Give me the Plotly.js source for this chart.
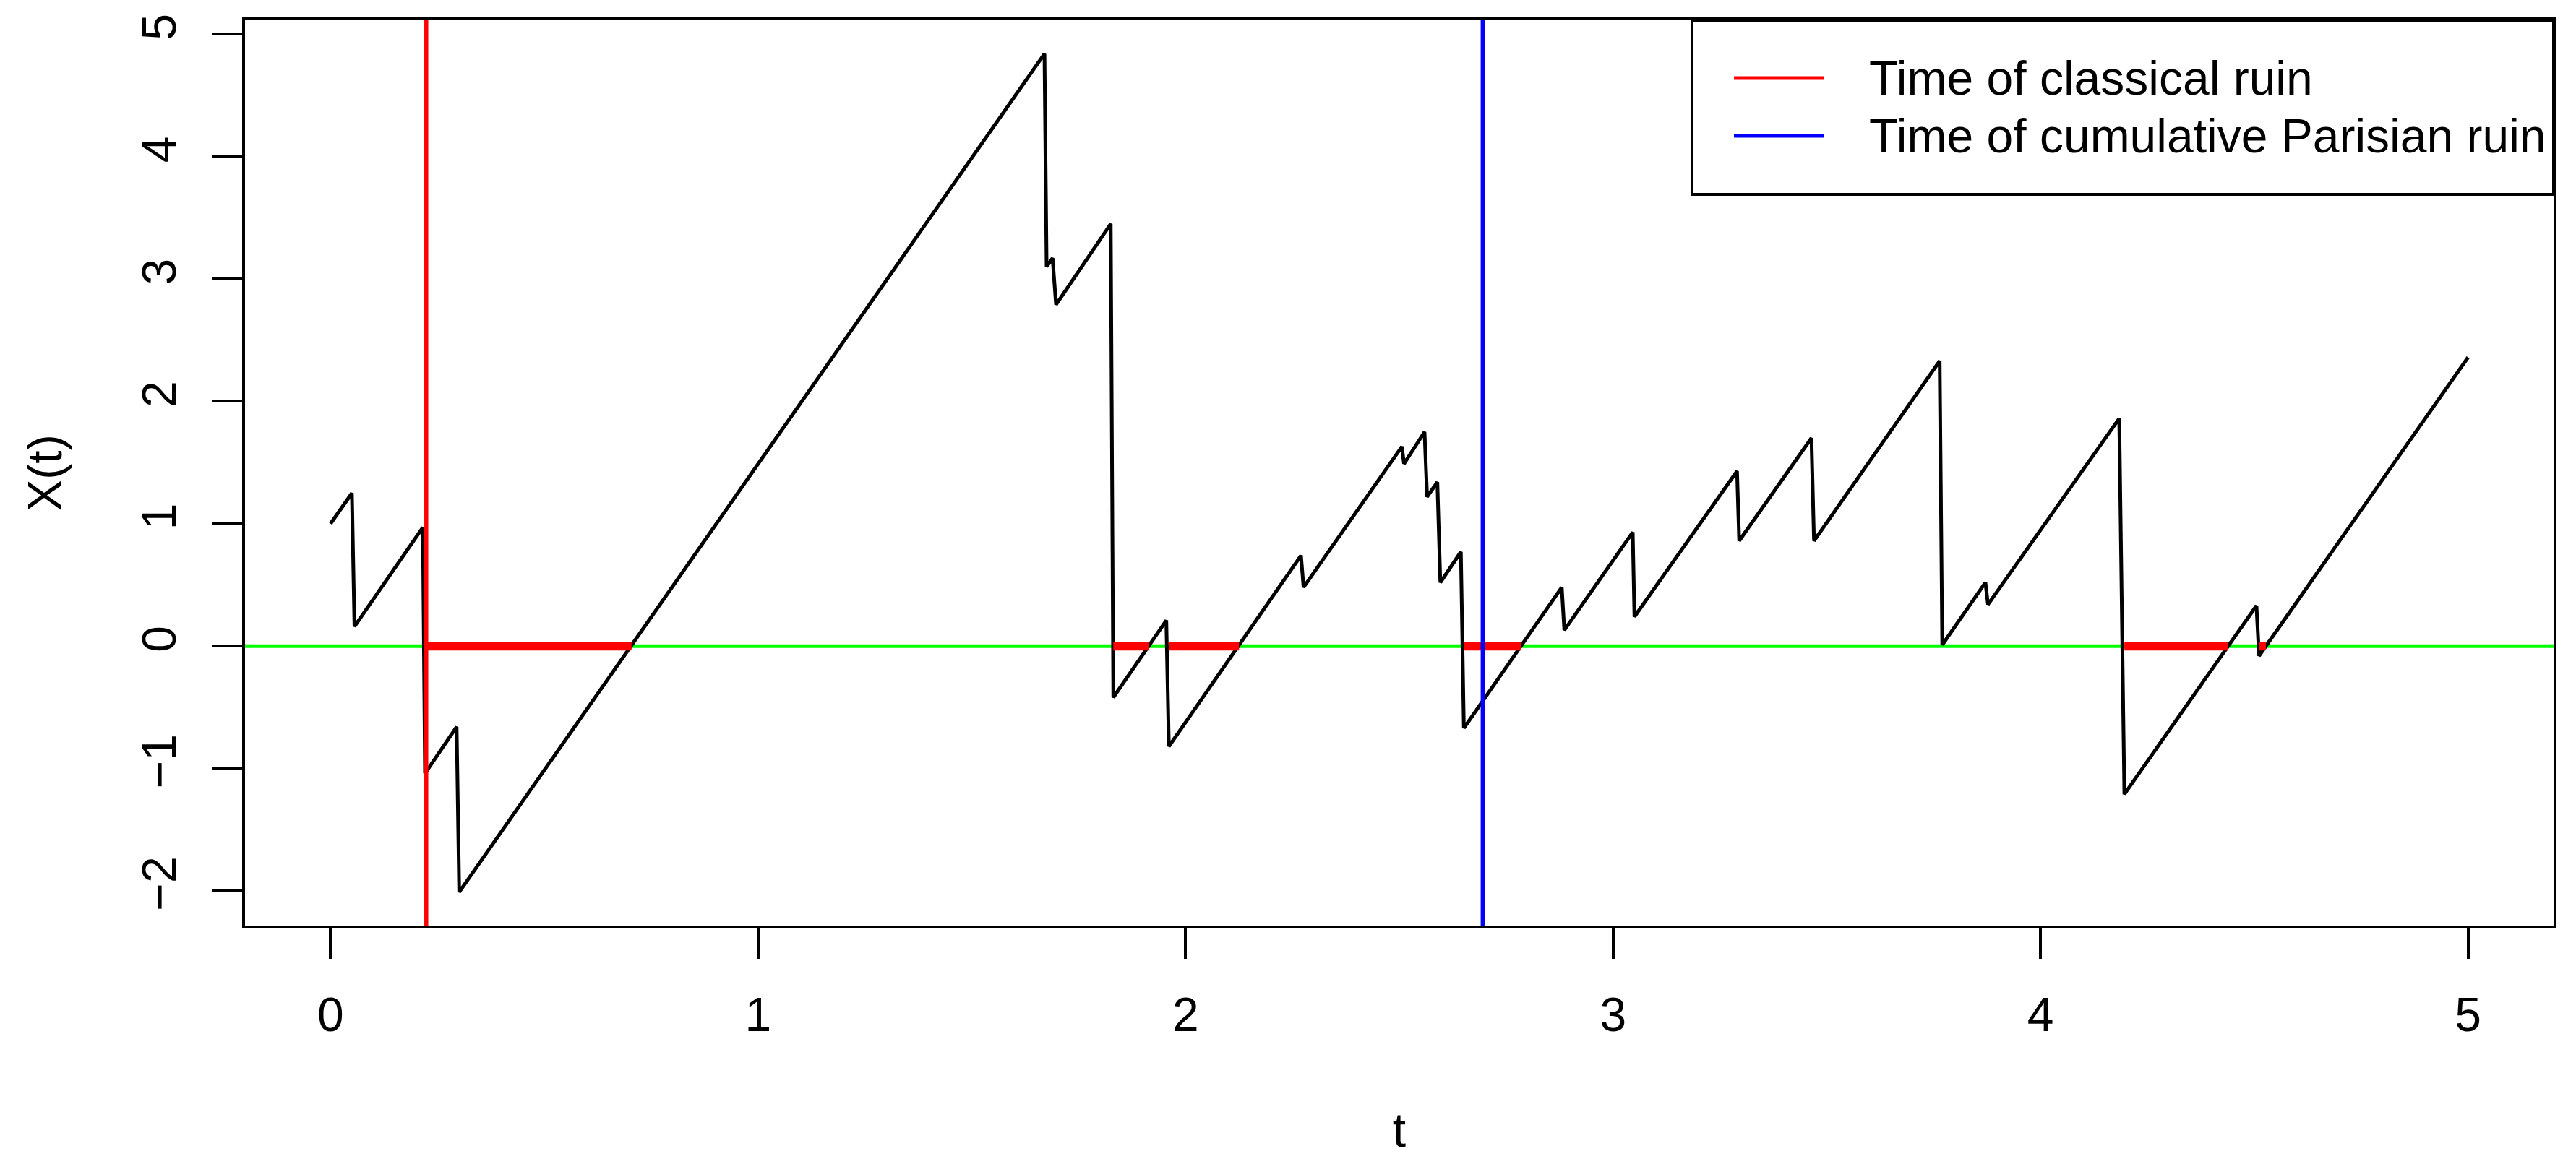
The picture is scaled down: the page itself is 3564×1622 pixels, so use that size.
<!DOCTYPE html>
<html>
<head>
<meta charset="utf-8">
<script src="https://cdn.plot.ly/plotly-3.0.1.min.js"></script>
<style>
  html, body { margin: 0; padding: 0; background: #fff; }
  #plot { width: 3564px; height: 1622px; }
</style>
</head>
<body>
<div id="plot"></div>
<script>
// corner points of the surplus path X(t) (premium rate ~5, downward claim jumps)
const pathT = [0, 0.050, 0.056, 0.216, 0.221, 0.295, 0.301,
    1.670, 1.675, 1.689, 1.697, 1.825, 1.831, 1.955, 1.961,
    2.270, 2.276, 2.506, 2.511, 2.559, 2.565, 2.589, 2.596,
    2.644, 2.651, 2.880, 2.886, 3.046, 3.050, 3.290, 3.295,
    3.464, 3.470, 3.764, 3.770, 3.871, 3.877, 4.184, 4.196,
    4.505, 4.511, 5.000];
const pathX = [1.00, 1.25, 0.16, 0.97, -1.04, -0.66, -2.01,
    4.84, 3.10, 3.17, 2.79, 3.45, -0.42, 0.21, -0.82,
    0.74, 0.48, 1.63, 1.49, 1.75, 1.22, 1.34, 0.52,
    0.77, -0.67, 0.48, 0.13, 0.93, 0.24, 1.43, 0.86,
    1.70, 0.86, 2.33, 0.01, 0.52, 0.34, 1.86, -1.21,
    0.33, -0.08, 2.36];

const barrier = 0;

// excursions below zero (start, end)
const belowStart = [0.221, 1.831, 1.961, 2.651, 4.196, 4.511];
const belowEnd   = [0.704, 1.915, 2.125, 2.785, 4.438, 4.527];

const classicalRuin = 0.224;
const parisianRuin = 2.695;

const legendLabels = ['Time of classical ruin', 'Time of cumulative Parisian ruin'];
const legendColors = ['#ff0000', '#0000ff'];

const fontFam = 'Liberation Sans, Arial, Helvetica, sans-serif';

// R-like axis ranges: data range padded by 4% each side
function padRange(lo, hi) {
    const d = (hi - lo) * 0.04;
    return [lo - d, hi + d];
}
const xRange = padRange(Math.min(...pathT), Math.max(...pathT));
const yRange = padRange(Math.min(...pathX), Math.max(...pathX));

// red bars on the zero line
const segX = [], segY = [];
for (let i = 0; i < belowStart.length; i++) {
    segX.push(belowStart[i], belowEnd[i], null);
    segY.push(barrier, barrier, null);
}

const pathTrace = {
    x: pathT, y: pathX,
    type: 'scatter', mode: 'lines',
    line: { color: '#000000', width: 5 },
    hoverinfo: 'skip', showlegend: false
};

const segTrace = {
    x: segX, y: segY,
    type: 'scatter', mode: 'lines',
    line: { color: '#ff0000', width: 12 },
    connectgaps: false,
    hoverinfo: 'skip', showlegend: false
};

// plot area in px, used to place the hand made legend
const W = 3564, H = 1622;
const mar = { l: 339, r: 31, t: 28, b: 341 };
const pw = W - mar.l - mar.r, ph = H - mar.t - mar.b;
const px = v => (v - mar.l) / pw;
const py = v => (H - mar.b - v) / ph;

const shapes = [
    // green zero line
    { type: 'line', xref: 'paper', x0: 0, x1: 1, yref: 'y', y0: barrier, y1: barrier,
      line: { color: '#00ff00', width: 5 }, layer: 'below' },
    // ruin times
    { type: 'line', xref: 'x', x0: classicalRuin, x1: classicalRuin, yref: 'paper', y0: 0, y1: 1,
      line: { color: legendColors[0], width: 5.5 }, layer: 'above' },
    { type: 'line', xref: 'x', x0: parisianRuin, x1: parisianRuin, yref: 'paper', y0: 0, y1: 1,
      line: { color: legendColors[1], width: 5.5 }, layer: 'above' },
    // legend box
    { type: 'rect', xref: 'paper', yref: 'paper',
      x0: px(2341), x1: 1, y0: py(269), y1: 1,
      line: { color: '#000000', width: 4 }, fillcolor: '#ffffff', layer: 'above' }
];

const annotations = [];
const rowY = [108, 188];
legendLabels.forEach((lab, i) => {
    shapes.push({ type: 'line', xref: 'paper', yref: 'paper',
        x0: px(2399), x1: px(2524), y0: py(rowY[i]), y1: py(rowY[i]),
        line: { color: legendColors[i], width: 5 }, layer: 'above' });
    annotations.push({ xref: 'paper', yref: 'paper', x: px(2584), y: py(rowY[i]),
        xanchor: 'left', yanchor: 'middle', showarrow: false,
        text: lab, font: { family: fontFam, size: 66, color: '#000000' } });
});

const axisCommon = {
    showgrid: false, zeroline: false,
    showline: true, mirror: true, linecolor: '#000000', linewidth: 4,
    ticks: 'outside', ticklen: 42, tickwidth: 4, tickcolor: '#000000',
    tickfont: { family: fontFam, size: 66, color: '#000000' }
};

const layout = {
    width: W, height: H,
    margin: mar,
    paper_bgcolor: '#ffffff', plot_bgcolor: '#ffffff',
    font: { family: fontFam, size: 66, color: '#000000' },
    showlegend: false,
    xaxis: Object.assign({}, axisCommon, {
        range: xRange,
        tickvals: [0, 1, 2, 3, 4, 5],
        ticklabelstandoff: 21,
        title: { text: 't', font: { family: fontFam, size: 66 }, standoff: 102 }
    }),
    yaxis: Object.assign({}, axisCommon, {
        range: yRange,
        tickvals: [-2, -1, 0, 1, 2, 3, 4, 5],
        tickangle: -90,
        ticklabelstandoff: 24,
        title: { text: 'X(t)', font: { family: fontFam, size: 66 }, standoff: 76 }
    }),
    shapes: shapes,
    annotations: annotations
};

Plotly.newPlot('plot', [pathTrace, segTrace], layout, { staticPlot: true });
</script>
</body>
</html>
